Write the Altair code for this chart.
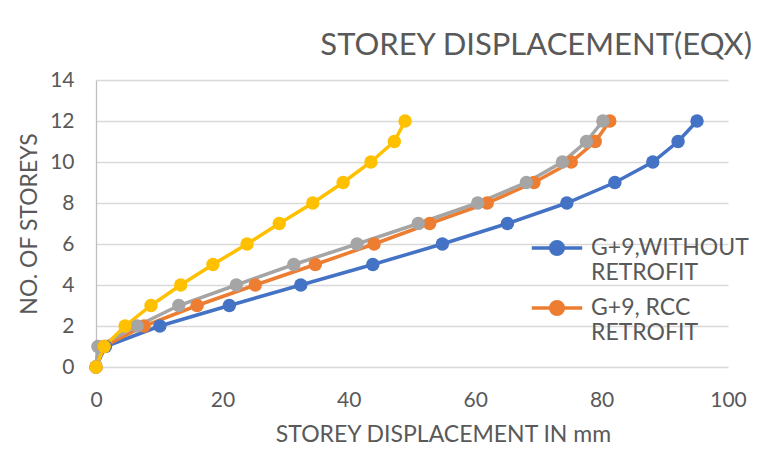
import altair as alt
import pandas as pd

storeys = list(range(13))
series_names = [
    "G+9,WITHOUT RETROFIT",
    "G+9, RCC RETROFIT",
    "G+9, STEEL RETROFIT",
    "G+9, SHEAR WALL RETROFIT",
]
without_retrofit = [0, 1.5, 10.1, 21.1, 32.4, 43.8, 54.8, 65.1, 74.5, 82.1, 88.1, 92.1, 95.1]
rcc_retrofit = [0, 1.2, 7.6, 16.0, 25.2, 34.7, 44.0, 52.8, 61.9, 69.3, 75.2, 79.0, 81.3]
steel_retrofit = [0, 0.3, 6.5, 13.1, 22.2, 31.3, 41.3, 51.0, 60.4, 68.1, 73.8, 77.6, 80.2]
shear_wall_retrofit = [0, 1.3, 4.6, 8.7, 13.4, 18.5, 23.9, 29.0, 34.3, 39.1, 43.5, 47.2, 48.9]
colors = ["#4472C4", "#ED7D31", "#A5A5A5", "#FFC000"]

rows = []
for i, (name, vals) in enumerate(zip(series_names, [without_retrofit, rcc_retrofit, steel_retrofit, shear_wall_retrofit])):
    for s, v in zip(storeys, vals):
        rows.append({"series": name, "order": i, "storey": s, "disp": v})
df = pd.DataFrame(rows)

FONT = "Lato"
GREY = "#595959"

color = alt.Color(
    "series:N",
    scale=alt.Scale(domain=series_names, range=colors),
    legend=alt.Legend(
        title=None,
        values=series_names[:2],
        orient="none",
        legendX=445,
        legendY=152,
        labelFont=FONT,
        labelFontSize=23,
        labelColor=GREY,
        labelExpr="datum.label == 'G+9,WITHOUT RETROFIT' ? ['G+9,WITHOUT', 'RETROFIT'] : ['G+9, RCC', 'RETROFIT']",
        labelLimit=300,
        labelOffset=18,
        symbolType="M-1.8,0H1.8M0.45,0A0.45,0.45 0 1,1 -0.45,0A0.45,0.45 0 1,1 0.45,0Z",
        symbolSize=784,
        symbolStrokeWidth=3.5,
        rowPadding=7,
    ),
)

x = alt.X(
    "disp:Q",
    scale=alt.Scale(domain=[0, 100], nice=False),
    axis=alt.Axis(
        values=[0, 20, 40, 60, 80, 100],
        title="STOREY DISPLACEMENT IN mm",
        grid=False,
        domain=False,
        ticks=False,
        labelFlush=False,
        labelFont=FONT,
        labelFontSize=21,
        labelColor=GREY,
        labelPadding=22,
        titleFont=FONT,
        titleFontSize=23,
        titleFontWeight="normal",
        titleColor=GREY,
        titlePadding=13,
        titleX=347,
    ),
)
y = alt.Y(
    "storey:Q",
    scale=alt.Scale(domain=[0, 14], nice=False),
    axis=alt.Axis(
        values=[0, 2, 4, 6, 8, 10, 12, 14],
        title="NO. OF STOREYS",
        grid=True,
        gridColor="#D9D9D9",
        gridWidth=1.3,
        domain=True,
        domainColor="#BFBFBF",
        domainWidth=1.3,
        ticks=False,
        labelFlush=False,
        labelFont=FONT,
        labelFontSize=21,
        labelColor=GREY,
        labelPadding=22,
        titleFont=FONT,
        titleFontSize=23,
        titleFontWeight="normal",
        titleColor=GREY,
        titlePadding=8,
    ),
)

base = alt.Chart(df).encode(x=x, y=y, color=color, order="storey:Q", detail="series:N")
lines = base.mark_line(strokeWidth=3.5)
points = base.mark_circle(size=180, opacity=1)

chart = (
    alt.layer(lines, points)
    .properties(
        width=632,
        height=287,
        autosize=alt.AutoSizeParams(type="none"),
        padding={"left": 88, "top": 72, "right": 26, "bottom": 78},
        title=alt.Title(
            "STOREY DISPLACEMENT(EQX)",
            anchor="end",
            frame="group",
            font=FONT,
            fontSize=31,
            fontWeight="normal",
            color=GREY,
            offset=7,
            dx=24,
        ),
    )
    .configure_view(stroke=None)
)

chart.save("out.html", embed_options={"renderer": "svg", "actions": False})
